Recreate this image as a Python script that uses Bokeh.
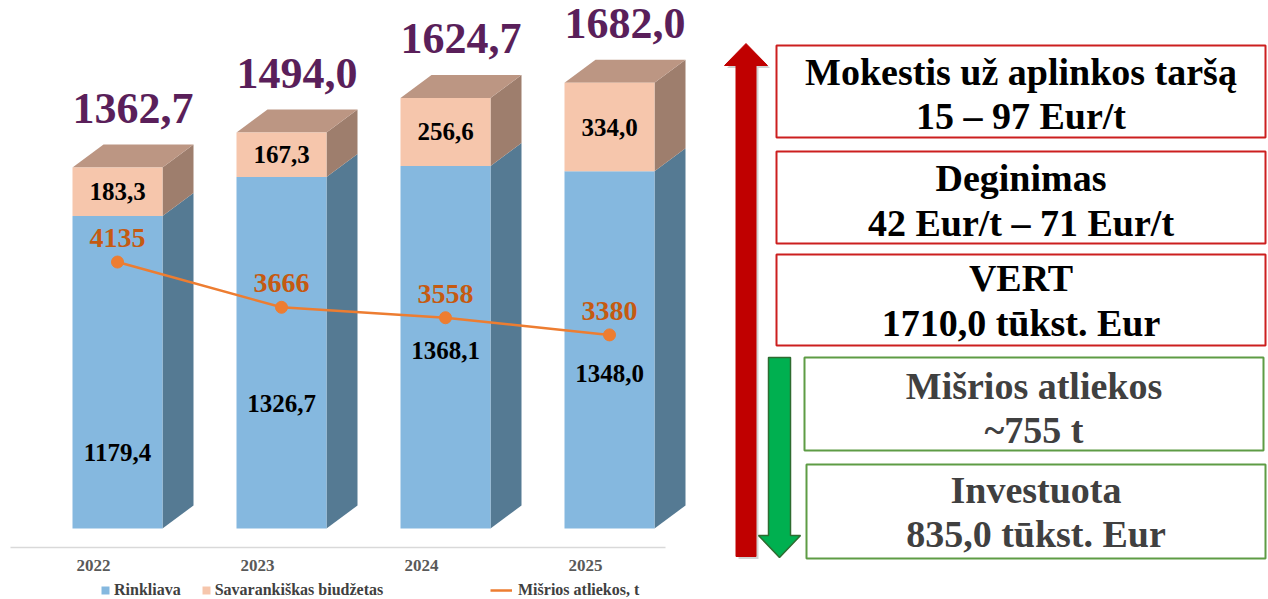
from bokeh.plotting import figure
from bokeh.models import Range1d, Legend, LegendItem
from bokeh.layouts import row
from bokeh.embed import file_html
from bokeh.resources import INLINE
from bokeh.core.properties import value

# ---------------- data ----------------
years = ["2022", "2023", "2024", "2025"]
rinkliava = [1179.4, 1326.7, 1368.1, 1348.0]
savarankiskas = [183.3, 167.3, 256.6, 334.0]
misrios = [4135, 3666, 3558, 3380]

panel_titles = ["Mokestis už aplinkos taršą", "Deginimas", "VERT",
                "Mišrios atliekos", "Investuota"]
panel_values = ["15 – 97 Eur/t", "42 Eur/t – 71 Eur/t", "1710,0 tūkst. Eur",
                "~755 t", "835,0 tūkst. Eur"]

# ---------------- layout constants ----------------
FONT = value("Liberation Serif")
PX = 0.265          # pixels per value unit
UX = 164.0          # pixels per category step
W1, W2, H = 720, 548, 599
X0_PX = 117         # first category centre (figure px)
BASE_PX = 71        # value 0 from bottom (figure px)
BASE_SCREEN = H - BASE_PX
LPX = 0.0965        # pixels per tonne on the line scale
L_START = 638.0

half = 45 / UX
ddx = 31 / UX
ddy = 23 / PX

rink_label_y = [287, 472, 672, 585]   # label anchors inside blue segment


def fmt(v):
    return f"{v:.1f}".replace(".", ",")


xs_c = list(range(len(years)))
totals = [r + s for r, s in zip(rinkliava, savarankiskas)]

p = figure(width=W1, height=H,
           x_range=Range1d(-X0_PX / UX, (W1 - X0_PX) / UX),
           y_range=Range1d(-BASE_PX / PX, (H - BASE_PX) / PX),
           x_axis_location=None, y_axis_location=None,
           output_backend="svg", toolbar_location=None, min_border=0)
p.grid.visible = False
p.outline_line_color = None
p.background_fill_color = "white"
p.border_fill_color = "white"

# --- line scale (secondary) ---
p.extra_y_ranges = {"t": Range1d(L_START, L_START + H / LPX)}

# floor line
p.line(x=[(10 - 117) / UX, (665 - 117) / UX], y=[-19 / PX, -19 / PX],
       line_color="#D9D9D9", line_width=1.5)


def draw_segment(bottoms, tops, front, side, top_col=None):
    left = [c - half for c in xs_c]
    right = [c + half for c in xs_c]
    sx = [[c + half, c + half + ddx, c + half + ddx, c + half] for c in xs_c]
    sy = [[b, b + ddy, t + ddy, t] for b, t in zip(bottoms, tops)]
    p.patches(xs=sx, ys=sy, fill_color=side, line_color=None)
    if top_col:
        tx = [[c - half, c - half + ddx, c + half + ddx, c + half] for c in xs_c]
        ty = [[t, t + ddy, t + ddy, t] for t in tops]
        p.patches(xs=tx, ys=ty, fill_color=top_col, line_color=None)
    return p.quad(left=left, right=right, bottom=bottoms, top=tops,
                  fill_color=front, line_color=None)


r_blue = draw_segment([0] * 4, rinkliava, "#85B8DF", "#557A93")
r_peach = draw_segment(rinkliava, totals, "#F6C6AC", "#9E7E6D", "#BC9683")

# line
r_line = p.line(x=xs_c, y=misrios, y_range_name="t",
                line_color="#ED7D31", line_width=2.5)
p.scatter(x=xs_c, y=misrios, y_range_name="t", size=12,
          fill_color="#ED7D31", line_color="#ED7D31")

# labels
p.text(x=xs_c, y=misrios, text=[str(v) for v in misrios], y_range_name="t",
       y_offset=-24, text_align="center", text_baseline="middle",
       text_font=FONT, text_font_style="bold", text_font_size="28px",
       text_color="#C55A11")
p.text(x=xs_c, y=[r + s / 2 for r, s in zip(rinkliava, savarankiskas)],
       text=[fmt(v) for v in savarankiskas], text_align="center",
       text_baseline="middle", text_font=FONT, text_font_style="bold",
       text_font_size="25px", text_color="black")
p.text(x=xs_c, y=rink_label_y, text=[fmt(v) for v in rinkliava],
       text_align="center", text_baseline="middle", text_font=FONT,
       text_font_style="bold", text_font_size="25px", text_color="black")
p.text(x=[c + ddx / 2 for c in xs_c], y=[t + ddy for t in totals],
       text=[fmt(v) for v in totals], y_offset=-36, text_align="center",
       text_baseline="middle", text_font=FONT, text_font_style="bold",
       text_font_size="44px", text_color="#5A1F5A")
p.text(x=[c - 24 / UX for c in xs_c],
       y=[(BASE_SCREEN - 565) / PX] * len(years), text=years,
       text_align="center", text_baseline="middle", text_font=FONT,
       text_font_style="bold", text_font_size="17px", text_color="#595959")

common = dict(orientation="horizontal", padding=0, margin=0,
              border_line_color=None, background_fill_alpha=0,
              label_text_font="Liberation Serif", label_text_font_style="bold",
              label_text_font_size="16px", label_text_color="#404040",
              label_height=16)
leg1 = Legend(items=[LegendItem(label="Rinkliava", renderers=[r_blue]),
                     LegendItem(label="Savarankiškas biudžetas",
                                renderers=[r_peach])],
              location=(100, 0), glyph_width=10, glyph_height=10,
              label_standoff=4, spacing=20, **common)
leg2 = Legend(items=[LegendItem(label="Mišrios atliekos, t",
                                renderers=[r_line])],
              location=(490, 0), glyph_width=22, glyph_height=10,
              label_standoff=6, **common)
p.add_layout(leg1)
p.add_layout(leg2)

# ---------------- right panel ----------------
q = figure(width=W2, height=H, x_range=Range1d(720, 720 + W2),
           y_range=Range1d(H, 0), x_axis_location=None,
           y_axis_location=None, output_backend="svg",
           toolbar_location=None, min_border=0)
q.grid.visible = False
q.outline_line_color = None

red_x = [745.5, 767, 755.5, 755.5, 735.5, 735.5, 724]
red_y = [43, 65, 65, 556, 556, 65, 65]
q.patch(x=[v + 2.5 for v in red_x], y=[v + 2.5 for v in red_y],
        fill_color="#7F7F7F", fill_alpha=0.35, line_color=None)
q.patch(x=red_x, y=red_y, fill_color="#C00000", line_color="#C00000")

green_x = [768, 790, 790, 800, 779, 758, 768]
green_y = [357, 357, 535, 535, 557, 535, 535]
q.patch(x=green_x, y=green_y, fill_color="#00B050", line_color="#2E6B30",
        line_width=1.5)

box_l = [776, 776, 776, 804, 806]
box_r = [1265, 1265, 1265, 1263, 1265]
box_t = [45, 151, 254, 357, 464]
box_b = [137, 243, 345, 450, 558]
box_c = ["#CC1F1F"] * 3 + ["#5E9C45"] * 2
q.quad(left=box_l, right=box_r, top=box_t, bottom=box_b,
       fill_color="white", line_color=box_c, line_width=2)

txt_c = ["black"] * 3 + ["#404040"] * 2
cx = [(a + b) / 2 for a, b in zip(box_l, box_r)]
y1 = [71, 177, 277, 385, 489]
y2 = [115, 222, 322, 429, 533]
q.text(x=cx, y=y1, text=panel_titles, text_color=txt_c, text_align="center",
       text_baseline="middle", text_font=FONT, text_font_style="bold",
       text_font_size="38px")
q.text(x=cx, y=y2, text=panel_values, text_color=txt_c, text_align="center",
       text_baseline="middle", text_font=FONT, text_font_style="bold",
       text_font_size="38px")

layout = row(p, q)
open("out.html", "w").write(file_html(layout, INLINE))
